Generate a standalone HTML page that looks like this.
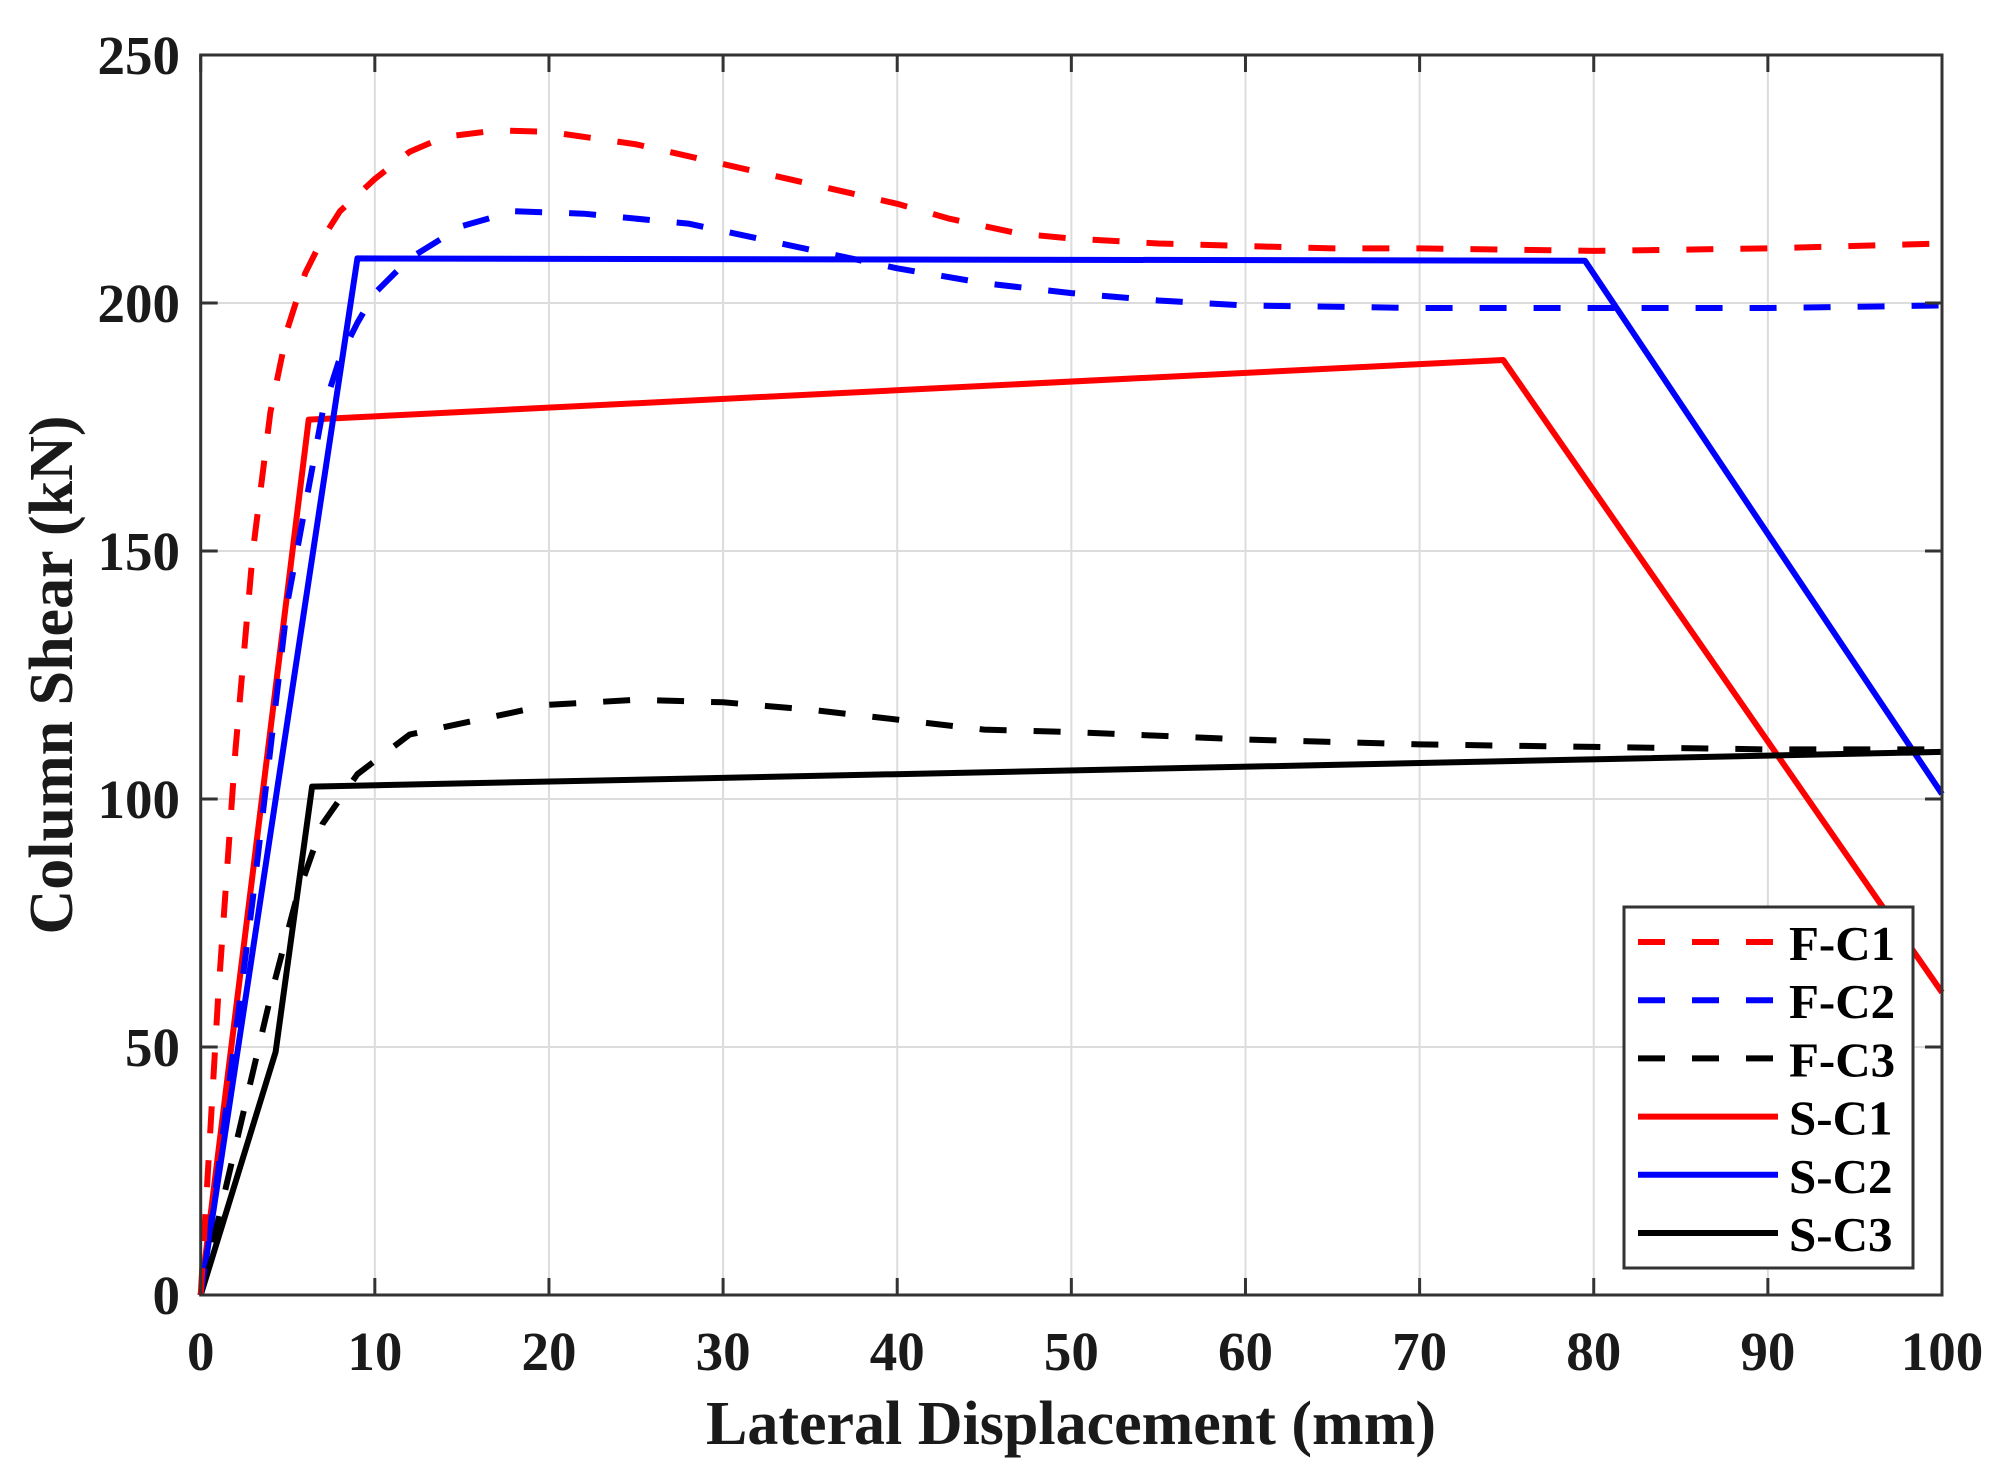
<!DOCTYPE html>
<html><head><meta charset="utf-8"><style>
html,body{margin:0;padding:0;background:#fff}
svg{display:block}
text{font-family:"Liberation Serif",serif;font-weight:bold;fill:#1a1a1a}
</style></head><body>
<svg id="s" width="2004" height="1476" viewBox="0 0 2004 1476" xmlns="http://www.w3.org/2000/svg">
<rect width="2004" height="1476" fill="#fff"/>
<g id="grid" stroke="#dcdcdc" stroke-width="2"></g>
<g id="series" fill="none" stroke-width="6" stroke-linejoin="round"></g>
<g id="axes" stroke="#333" stroke-width="3" fill="none"></g>
<g id="labels" font-size="55"></g>
<text x="1071" y="1444" font-size="62" text-anchor="middle">Lateral Displacement (mm)</text>
<text transform="translate(72,675) rotate(-90)" font-size="62" text-anchor="middle">Column Shear (kN)</text>
<g id="legend"></g>
</svg>
<script>
const L=200.7,R=1942,T=55,B=1295;
const X=d=>L+(R-L)*d/100, Y=v=>B-(B-T)*v/250;
const ns="http://www.w3.org/2000/svg";
function el(p,tag,a,txt){const e=document.createElementNS(ns,tag);for(const k in a)e.setAttribute(k,a[k]);if(txt!==undefined)e.textContent=txt;document.getElementById(p).appendChild(e);return e;}
for(let d=10;d<100;d+=10)el("grid","line",{x1:X(d),x2:X(d),y1:T,y2:B});
for(let v=50;v<250;v+=50)el("grid","line",{x1:L,x2:R,y1:Y(v),y2:Y(v)});
const data={
fc1:[[0,0],[0.5,30],[1,60],[2,110],[3,150],[4,178],[5,195],[6,206],[7,213],[8,218.5],[10,225],[12,230.5],[14,233.5],[17,234.8],[20,234.5],[25,232],[30,228],[35,224],[40,220],[43,217],[47,214],[50,213],[55,212],[60,211.5],[65,211],[70,211],[80,210.5],[90,211],[100,212]],
fc2:[[0,0],[1,25],[3,80],[5,140],[7,178],[8,189],[9,196],[10,202],[12,209],[15,215.5],[18,218.5],[22,218],[28,216],[32,213],[36,210],[40,207],[45,204],[50,202],[55,200.5],[60,199.5],[70,199],[80,199],[90,199],[100,199.5]],
fc3:[[0,0],[2,30],[4,60],[5.5,80],[7,95],[9,105],[12,113],[16,116],[20,119],[25,120],[30,119.5],[35,118],[40,116],[45,114],[50,113.5],[60,112],[70,111],[80,110.5],[90,110],[100,110]],
sc1:[[0,0],[6.2,176.5],[74.8,188.5],[100,61]],
sc2:[[0,0],[9,209],[79.5,208.5],[100,101]],
sc3:[[0,0],[4.3,49],[6.4,102.5],[100,109.5]]};
const sty={fc1:["#ff0000",1],fc2:["#0000ff",1],fc3:["#000",1],sc1:["#ff0000",0],sc2:["#0000ff",0],sc3:["#000",0]};
for(const k of ["sc1","sc2","sc3","fc3","fc2","fc1"]){
 const pts=data[k].map(p=>X(p[0]).toFixed(1)+","+Y(p[1]).toFixed(1)).join(" ");
 const a={points:pts,stroke:sty[k][0]};if(sty[k][1])a["stroke-dasharray"]="27 27";
 el("series","polyline",a);
}
el("axes","rect",{x:L,y:T,width:R-L,height:B-T});
for(let d=0;d<=100;d+=10){el("axes","line",{x1:X(d),x2:X(d),y1:B,y2:B-17});el("axes","line",{x1:X(d),x2:X(d),y1:T,y2:T+17});
 el("labels","text",{x:X(d),y:1370,"text-anchor":"middle"},String(d));}
for(let v=0;v<=250;v+=50){el("axes","line",{x1:L,x2:L+17,y1:Y(v),y2:Y(v)});el("axes","line",{x1:R,x2:R-17,y1:Y(v),y2:Y(v)});
 el("labels","text",{x:180,y:Y(v)+19,"text-anchor":"end"},String(v));}
el("legend","rect",{x:1624,y:907,width:289,height:361,fill:"#fff",stroke:"#333","stroke-width":3});
const names=[["F-C1","fc1"],["F-C2","fc2"],["F-C3","fc3"],["S-C1","sc1"],["S-C2","sc2"],["S-C3","sc3"]];
names.forEach((n,i)=>{const y=942+i*58.2;const a={x1:1638,x2:1778,y1:y,y2:y,stroke:sty[n[1]][0],"stroke-width":6};
 if(sty[n[1]][1])a["stroke-dasharray"]="27 27";el("legend","line",a);
 el("legend","text",{x:1789,y:y+18,"font-size":49,style:"fill:#000"},n[0]);});
</script>
</body></html>
